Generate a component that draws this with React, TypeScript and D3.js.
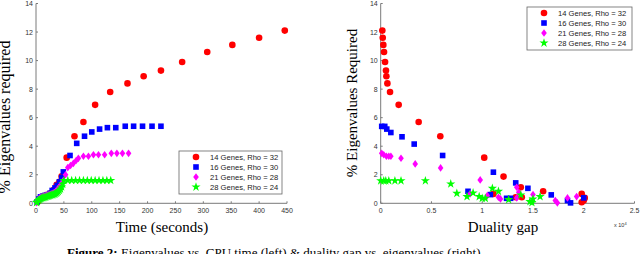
import * as d3 from "d3";

type Pt = [number, number];

const seriesNames = [
  "14 Genes, Rho = 32",
  "16 Genes, Rho = 30",
  "21 Genes, Rho = 28",
  "28 Genes, Rho = 24",
];
const seriesColors = ["#ff0000", "#0000ff", "#ff00ff", "#00ff00"];
const seriesShapes = ["circle", "square", "diamond", "star"];

// left panel: [time (s), % eigenvalues]
const timeRed: Pt[] = [
  [3, 0.1], [8, 0.35], [14, 0.5], [20, 0.6], [26, 0.7], [32, 0.95], [37, 1.3], [42, 1.5],
  [46, 1.9], [55, 3.2], [69, 4.7], [85, 5.7], [106, 6.9], [133, 7.8], [164, 8.4],
  [193, 8.9], [224, 9.3], [262, 9.9], [307, 10.6], [352, 11.1], [400, 11.6], [446, 12.1],
];
const timeBlue: Pt[] = [
  [2, 0.1], [5, 0.3], [8, 0.45], [12, 0.5], [16, 0.55], [20, 0.6], [25, 0.7], [29, 0.9],
  [34, 1.08], [38, 1.25], [42, 1.5], [46, 1.8], [49, 2.2], [61, 3.35], [73, 4.2], [87, 4.7],
  [100, 5.0], [114, 5.2], [128, 5.3], [143, 5.3], [160, 5.4], [175, 5.4], [191, 5.4],
  [208, 5.4], [224, 5.4],
];
const timeMagenta: Pt[] = [
  [1, 0.05], [3, 0.2], [5, 0.3], [7, 0.38], [9, 0.42], [11, 0.45], [13, 0.48], [15, 0.5],
  [17, 0.52], [19, 0.55], [21, 0.58], [23, 0.6], [25, 0.62], [27, 0.65], [29, 0.68],
  [31, 0.72], [33, 0.76], [35, 0.82], [37, 0.9], [39, 1.0], [41, 1.1], [43, 1.2], [45, 1.3],
  [47, 1.45], [49, 1.6], [53, 2.0], [57, 2.5], [62, 2.65], [67, 2.8], [72, 3.0], [76, 3.15],
  [85, 3.3], [94, 3.3], [103, 3.4], [112, 3.4], [123, 3.4], [135, 3.5], [145, 3.5],
  [155, 3.5], [166, 3.5],
];
const timeGreen: Pt[] = [
  [1, 0.05], [2, 0.1], [4, 0.2], [6, 0.25], [8, 0.3], [10, 0.35], [12, 0.38], [14, 0.4],
  [16, 0.42], [18, 0.45], [20, 0.48], [22, 0.5], [24, 0.52], [26, 0.55], [28, 0.58],
  [30, 0.6], [32, 0.62], [34, 0.65], [36, 0.7], [38, 0.75], [40, 0.82], [42, 0.9],
  [44, 1.0], [46, 1.15], [48, 1.35], [50, 1.6], [57, 1.6], [64, 1.6], [71, 1.6], [78, 1.6],
  [85, 1.6], [92, 1.6], [99, 1.6], [106, 1.6], [113, 1.6], [120, 1.6], [127, 1.6], [134, 1.6],
];

// right panel: [duality gap (x1e4), % eigenvalues]
const gapRed: Pt[] = [
  [0.016, 12.1], [0.02, 11.6], [0.026, 11.1], [0.033, 10.6], [0.043, 9.9], [0.052, 9.3],
  [0.056, 8.9], [0.066, 8.4], [0.092, 7.8], [0.177, 6.9], [0.374, 5.7], [0.587, 4.7],
  [1.02, 3.2], [1.21, 1.87], [1.38, 1.12], [1.33, 0.42], [1.39, 0.42], [1.11, 0.66],
  [1.6, 0.84], [1.98, 0.66], [2.0, 0.19], [1.98, 0.07], [2.01, 0.38],
];
const gapBlue: Pt[] = [
  [0.01, 5.39], [0.04, 5.39], [0.06, 5.2], [0.1, 4.96], [0.21, 4.66], [0.33, 4.15],
  [0.61, 3.35], [0.86, 0.84], [1.08, 0.61], [1.11, 2.18], [1.24, 0.35], [1.28, 0.35],
  [1.33, 1.43], [1.45, 1.05], [1.68, 0.59], [1.84, 0.19], [1.87, 0.03], [2.0, 0.38],
];
const gapMagenta: Pt[] = [
  [0.01, 3.5], [0.03, 3.4], [0.056, 3.3], [0.08, 3.3], [0.1, 3.3], [0.2, 3.16],
  [0.34, 2.76], [0.59, 2.48], [0.98, 1.64], [0.88, 0.66], [1.05, 0.54], [1.16, 0.42],
  [1.18, 0.31], [1.34, 1.12], [1.36, 0.77], [1.34, 0.38], [1.5, 0.61], [1.72, 0.19],
  [1.74, 0.03], [1.84, 0.38], [1.93, 0.47],
];
const gapGreen: Pt[] = [
  [0.0, 1.58], [0.03, 1.58], [0.05, 1.58], [0.08, 1.58], [0.14, 1.58], [0.2, 1.58],
  [0.44, 1.58], [0.69, 1.36], [0.75, 0.7], [0.85, 0.47], [0.91, 0.73], [0.97, 0.47],
  [1.0, 0.35], [1.03, 0.35], [1.1, 1.05], [1.16, 0.84], [1.26, 0.26], [1.38, 0.59],
  [1.47, 0.12], [1.49, 0.05], [1.5, 0.31], [1.57, 0.47],
];

const yTicks = [0, 2, 4, 6, 8, 10, 12, 14];
const timeTicks = [0, 50, 100, 150, 200, 250, 300, 350, 400, 450];
const gapTicks = [0, 0.5, 1, 1.5, 2, 2.5];

const tickFont = "'Liberation Sans', Arial, sans-serif";
const serif = "'Liberation Serif', 'Times New Roman', serif";
const axisGray = "#7a7a7a";

function Marker({ shape, x, y, color }: { shape: string; x: number; y: number; color: string }) {
  if (shape === "circle") return <circle cx={x} cy={y} r={3.3} fill={color} />;
  if (shape === "square") return <rect x={x - 2.8} y={y - 2.8} width={5.6} height={5.6} fill={color} />;
  if (shape === "diamond")
    return <path d={`M${x},${y - 3.8}L${x + 2.8},${y}L${x},${y + 3.8}L${x - 2.8},${y}Z`} fill={color} />;
  const star = d3.symbol().type(d3.symbolStar).size(26)();
  return <path d={star ?? ""} transform={`translate(${x},${y})`} fill={color} />;
}

function Panel({
  series, xDomain, xRange, xTicks, legendX, legendY, legendW,
}: {
  series: Pt[][]; xDomain: [number, number]; xRange: [number, number]; xTicks: number[];
  legendX: number; legendY: number; legendW: number;
}) {
  const x = d3.scaleLinear().domain(xDomain).range(xRange);
  const y = d3.scaleLinear().domain([0, 14]).range([203.3, 3.5]);
  const [x0, x1] = xRange;
  return (
    <g>
      <line x1={x0} x2={x0} y1={y(14)} y2={y(0)} stroke={axisGray} strokeWidth={1} />
      <line x1={x0} x2={x1} y1={y(0)} y2={y(0)} stroke={axisGray} strokeWidth={1} />
      {yTicks.map((t) => (
        <g key={"y" + t}>
          <line x1={x0} x2={x0 + 2} y1={y(t)} y2={y(t)} stroke={axisGray} />
          <text x={x0 - 3} y={y(t) + 2.5} fontSize={7} fontFamily={tickFont} fill="#333" textAnchor="end">{t}</text>
        </g>
      ))}
      {xTicks.map((t) => (
        <g key={"x" + t}>
          <line x1={x(t)} x2={x(t)} y1={y(0)} y2={y(0) - 2} stroke={axisGray} />
          <text x={x(t)} y={212.5} fontSize={7} fontFamily={tickFont} fill="#333" textAnchor="middle">{String(t)}</text>
        </g>
      ))}
      {series.map((pts, i) => (
        <g key={"s" + i}>
          {pts.map((p, j) => (
            <Marker key={j} shape={seriesShapes[i]} x={x(p[0])} y={y(p[1])} color={seriesColors[i]} />
          ))}
        </g>
      ))}
      <rect x={legendX} y={legendY} width={legendW} height={43} fill="#fff" stroke="#666" strokeWidth={0.8} />
      {seriesNames.map((n, i) => (
        <g key={n}>
          <Marker shape={seriesShapes[i]} x={legendX + 17} y={legendY + 6 + i * 10} color={seriesColors[i]} />
          <text x={legendX + 31} y={legendY + 8.8 + i * 10} fontSize={7.6} fontFamily={tickFont} fill="#222">{n}</text>
        </g>
      ))}
    </g>
  );
}

export default function App() {
  return (
    <svg width={640} height={254} style={{ position: "absolute", left: 0, top: 0, background: "#fff" }}>
      <Panel
        series={[timeRed, timeBlue, timeMagenta, timeGreen]}
        xDomain={[0, 450]} xRange={[36, 287]} xTicks={timeTicks}
        legendX={179} legendY={151} legendW={103}
      />
      <Panel
        series={[gapRed, gapBlue, gapMagenta, gapGreen]}
        xDomain={[0, 2.5]} xRange={[380.7, 634.5]} xTicks={gapTicks}
        legendX={527} legendY={7} legendW={105}
      />
      <text transform="translate(10,117) rotate(-90)" fontSize={16} fontFamily={serif} textAnchor="middle">% Eigenvalues required</text>
      <text transform="translate(357,103) rotate(-90)" fontSize={15} fontFamily={serif} textAnchor="middle">% Eigenvalues Required</text>
      <text x={162} y={232} fontSize={15} fontFamily={serif} textAnchor="middle">Time (seconds)</text>
      <text x={503} y={232} fontSize={15} fontFamily={serif} textAnchor="middle">Duality gap</text>
      <text x={614} y={227} fontSize={5.5} fontFamily={tickFont} fill="#333">x 10<tspan dy={-2.5} fontSize={4}>4</tspan></text>
      <text x={67} y={257} fontSize={13} fontFamily={serif}>
        <tspan fontWeight="bold">Figure 2:</tspan> Eigenvalues vs. CPU time (left) &amp; duality gap vs. eigenvalues (right).
      </text>
    </svg>
  );
}
